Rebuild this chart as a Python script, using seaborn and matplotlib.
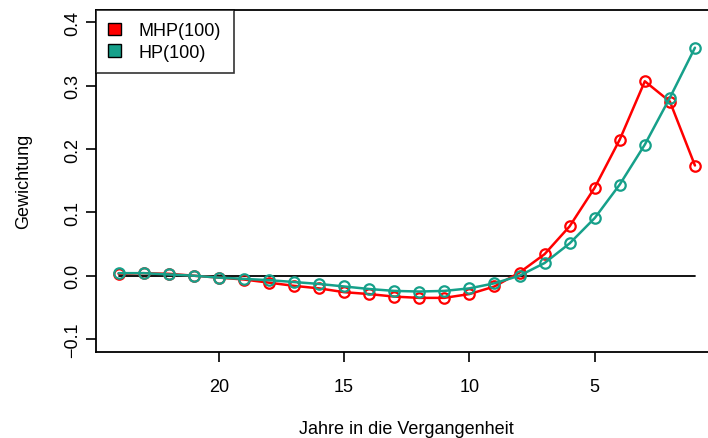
import pandas as pd
import matplotlib.pyplot as plt
import matplotlib.patches as mpatches
import seaborn as sns

# === DATA ===
jahre = list(range(24, 0, -1))
mhp = [0.003, 0.004, 0.003, 0.000, -0.003, -0.006, -0.011, -0.016, -0.020, -0.026,
       -0.029, -0.033, -0.035, -0.035, -0.029, -0.017, 0.005, 0.034, 0.078, 0.139,
       0.215, 0.307, 0.275, 0.174]
hp = [0.004, 0.004, 0.002, 0.000, -0.003, -0.005, -0.007, -0.010, -0.013, -0.017,
      -0.021, -0.024, -0.025, -0.024, -0.020, -0.012, 0.000, 0.020, 0.051, 0.091,
      0.144, 0.207, 0.281, 0.360]
xticks = [20, 15, 10, 5]
yticks = [-0.1, 0.0, 0.1, 0.2, 0.3, 0.4]

df = pd.DataFrame({"Jahre": jahre, "MHP(100)": mhp, "HP(100)": hp})

sns.set_style("white")
plt.rcParams["font.family"] = ["Liberation Sans", "DejaVu Sans"]
plt.rcParams["text.color"] = "black"
plt.rcParams["axes.labelcolor"] = "black"
plt.rcParams["xtick.color"] = "black"
plt.rcParams["ytick.color"] = "black"

RED = "#FF0000"
TEAL = "#16A08A"

fig = plt.figure(figsize=(7.08, 4.39), dpi=100)
ax = fig.add_axes([95.5 / 708, 86.3 / 439, 622.5 / 708, 342 / 439])

ax.plot(df["Jahre"], [0] * len(df), color="black", lw=1.3, zorder=1)

for col, c in [("MHP(100)", RED), ("HP(100)", TEAL)]:
    sns.lineplot(x="Jahre", y=col, data=df, ax=ax, color=c, lw=1.8,
                 marker="o", markersize=7.5, markerfacecolor="none",
                 markeredgecolor=c, markeredgewidth=1.6, zorder=3)

# R-like axes: 4% padding, reversed x
ax.set_xlim(24 + 0.92, 1 - 0.92)
ax.set_ylim(-0.12, 0.42)
ax.set_xticks(xticks)
ax.set_yticks(yticks)
ax.set_yticklabels([f"{v:.1f}".replace("-", "\u2212") for v in yticks],
                   rotation=90, va="center")
ax.tick_params(bottom=True, left=True, direction="out", length=7, width=1.2,
               labelsize=13, color="black", labelcolor="black", pad=3)
ax.tick_params(axis="x", pad=12)
for s in ax.spines.values():
    s.set_color("black")
    s.set_linewidth(1.3)

ax.set_xlabel("Jahre in die Vergangenheit", fontsize=13, color="black", va="center")
ax.set_ylabel("Gewichtung", fontsize=13, color="black", va="center")
ax.xaxis.set_label_coords(0.5, -77 / 342)
ax.yaxis.set_label_coords(-72 / 622.5, 0.5)

handles = [mpatches.Patch(facecolor=RED, edgecolor="black", label="MHP(100)"),
           mpatches.Patch(facecolor=TEAL, edgecolor="black", label="HP(100)")]
leg = ax.legend(handles=handles, loc="upper left", fontsize=13, frameon=True,
                fancybox=False, borderaxespad=0, handlelength=0.7,
                handleheight=0.7, handletextpad=1.0, borderpad=0.7,
                labelspacing=0.25)
leg.get_frame().set_edgecolor("black")
leg.get_frame().set_linewidth(1.2)
for t in leg.get_texts():
    t.set_color("black")

plt.savefig("out.png", dpi=100)
